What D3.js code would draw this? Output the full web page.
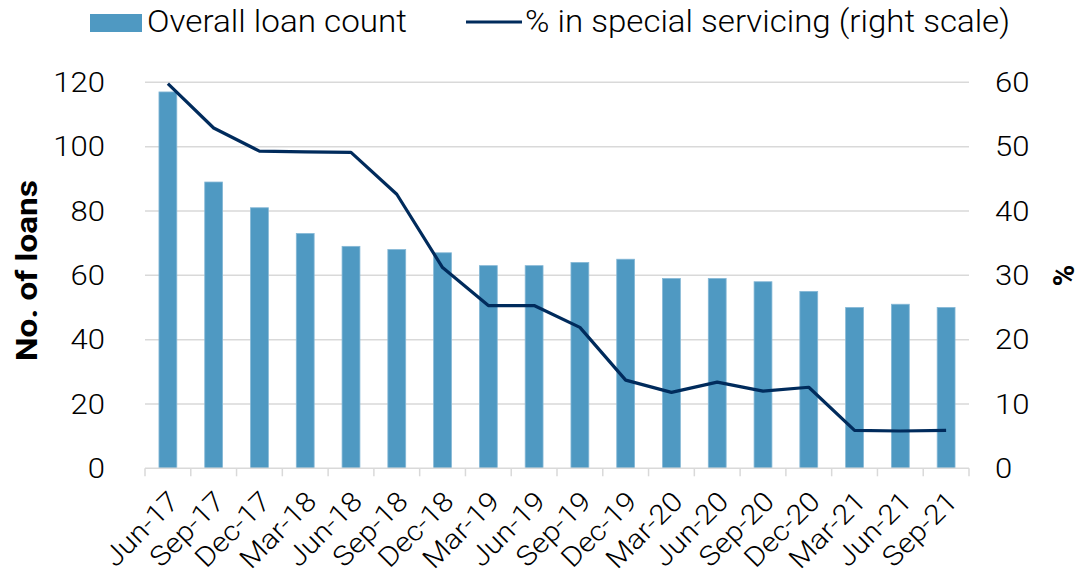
<!DOCTYPE html>
<html><head><meta charset="utf-8">
<script src="https://cdn.jsdelivr.net/npm/d3@7"></script>
<style>body{margin:0;background:#fff}svg{display:block}</style>
</head><body>
<svg id="c" width="1081" height="578"></svg>
<script>
const categories = ["Jun-17","Sep-17","Dec-17","Mar-18","Jun-18","Sep-18","Dec-18","Mar-19","Jun-19","Sep-19","Dec-19","Mar-20","Jun-20","Sep-20","Dec-20","Mar-21","Jun-21","Sep-21"];
const loanCount = [117,89,81,73,69,68,67,63,63,64,65,59,59,58,55,50,51,50];
const pctSpecial = [59.8,52.9,49.3,49.2,49.1,42.6,31.2,25.3,25.3,21.9,13.7,11.8,13.4,12.0,12.6,5.9,5.8,5.9];
const leftTicks = [0,20,40,60,80,100,120];
const rightTicks = [0,10,20,30,40,50,60];

const svg = d3.select("#c");
const font = "Roboto, 'Liberation Sans', sans-serif";
const x0 = 145, x1 = 969, yTop = 82.3, yBot = 468.3;
const x = d3.scaleBand().domain(categories).range([x0, x1]).paddingInner(0.61).paddingOuter(0.305);
const xb = d3.scaleBand().domain(categories).range([x0, x1]);
const yL = d3.scaleLinear().domain([0,120]).range([yBot, yTop]);
const yR = d3.scaleLinear().domain([0,60]).range([yBot, yTop]);

function widen(sel, k) {
  sel.each(function(){ const w = this.getComputedTextLength(); d3.select(this).attr("textLength", w*k).attr("lengthAdjust","spacingAndGlyphs"); });
}

// gridlines
svg.append("g").selectAll("line").data(leftTicks.filter(d=>d>0)).join("line")
  .attr("x1", x0).attr("x2", x1).attr("y1", d=>yL(d)).attr("y2", d=>yL(d))
  .attr("stroke", "#d9d9d9").attr("stroke-width", 1.5);

// bars
svg.append("g").selectAll("rect").data(loanCount).join("rect")
  .attr("x", (d,i)=>x(categories[i])).attr("width", x.bandwidth())
  .attr("y", d=>yL(d)).attr("height", d=>yBot - yL(d))
  .attr("fill", "#4f99c2").attr("stroke", "#86b8d6").attr("stroke-width", 0.8);

// x axis
const xAxis = svg.append("g");
xAxis.append("line").attr("x1", x0).attr("x2", x1).attr("y1", yBot).attr("y2", yBot)
  .attr("stroke", "#d9d9d9").attr("stroke-width", 1.5);
const boundaries = categories.map(c=>xb(c)).concat([x1]);
xAxis.selectAll("line.tk").data(boundaries).join("line").attr("class","tk")
  .attr("x1", d=>d).attr("x2", d=>d).attr("y1", yBot).attr("y2", yBot+8)
  .attr("stroke", "#d9d9d9").attr("stroke-width", 1.5);
xAxis.selectAll("text").data(categories).join("text")
  .attr("transform", d=>`translate(${xb(d)+xb.bandwidth()/2+6},${yBot+28}) rotate(-45)`)
  .attr("text-anchor", "end").attr("dy", "0.35em")
  .attr("font-family", font).attr("font-weight", 300).attr("font-size", 27.5).attr("fill", "#000")
  .text(d=>d).call(widen, 1.1);

// left tick labels
svg.append("g").selectAll("text").data(leftTicks).join("text")
  .attr("x", 105).attr("y", d=>yL(d)).attr("dy", "0.36em").attr("text-anchor", "end")
  .attr("font-family", font).attr("font-weight", 300).attr("font-size", 27).text(d=>d).call(widen, 1.15);
// right tick labels
svg.append("g").selectAll("text").data(rightTicks).join("text")
  .attr("x", 995).attr("y", d=>yR(d)).attr("dy", "0.36em").attr("text-anchor", "start")
  .attr("font-family", font).attr("font-weight", 300).attr("font-size", 27).text(d=>d).call(widen, 1.15);

// line
const line = d3.line().x((d,i)=>xb(categories[i])+xb.bandwidth()/2).y(d=>yR(d));
svg.append("path").datum(pctSpecial).attr("d", line)
  .attr("fill", "none").attr("stroke", "#002b5c").attr("stroke-width", 3.2).attr("stroke-linejoin", "round");

// axis titles
svg.append("text").attr("transform", `translate(37,270.5) rotate(-90)`)
  .attr("text-anchor", "middle").attr("font-family", font).attr("font-weight", 700).attr("font-size", 29)
  .attr("textLength", 181).attr("lengthAdjust", "spacingAndGlyphs")
  .text("No. of loans");
svg.append("text").attr("transform", `translate(1074,275.5) rotate(-90)`)
  .attr("text-anchor", "middle").attr("font-family", font).attr("font-weight", 700).attr("font-size", 29)
  .text("%");

// legend
const lg = svg.append("g");
lg.append("rect").attr("x", 90).attr("y", 14).attr("width", 52).attr("height", 18).attr("fill", "#4f99c2");
lg.append("text").attr("x", 147).attr("y", 31.7)
  .attr("font-family", font).attr("font-weight", 300).attr("font-size", 31)
  .attr("textLength", 260).attr("lengthAdjust", "spacingAndGlyphs").text("Overall loan count");
lg.append("line").attr("x1", 466).attr("x2", 522).attr("y1", 22).attr("y2", 22)
  .attr("stroke", "#002b5c").attr("stroke-width", 3.2);
lg.append("text").attr("x", 525).attr("y", 31.7)
  .attr("font-family", font).attr("font-weight", 300).attr("font-size", 31)
  .attr("textLength", 485).attr("lengthAdjust", "spacingAndGlyphs").text("% in special servicing (right scale)");
</script>
</body></html>
